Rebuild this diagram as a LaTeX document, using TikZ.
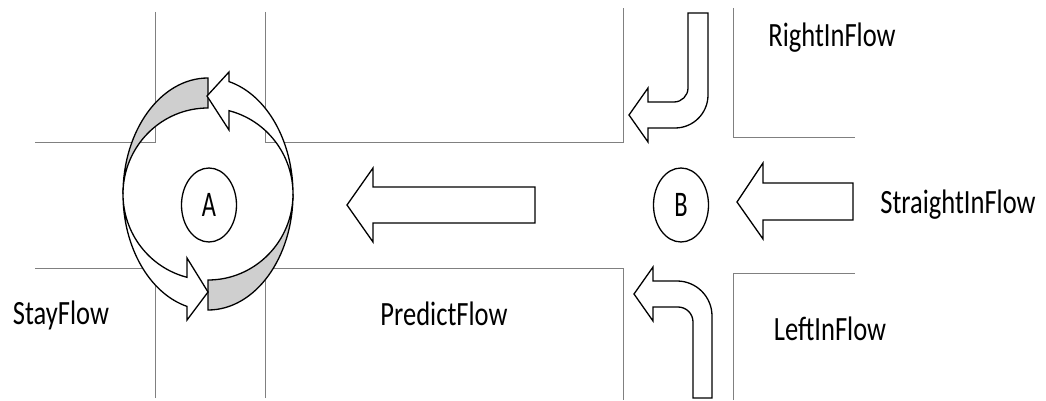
\documentclass[tikz,border=0pt]{standalone}
\usepackage{fontspec}
\setmainfont{Carlito}
\usetikzlibrary{shapes.geometric}

\begin{document}
\begin{tikzpicture}[x=1pt, y=-1pt,
	road/.style={draw=black!50, line width=1pt},
	blockarrow/.style={draw, fill=white, line width=1.3pt, line join=miter},
	backband/.style={draw, fill=black!19, line width=1.3pt},
	spot/.style={ellipse, draw, line width=1.3pt, minimum width=55pt, minimum height=74pt, inner sep=0pt,
		font=\fontsize{36}{40}\selectfont},
	lbl/.style={anchor=base, inner sep=0pt, font=\fontsize{34}{38}\selectfont, xscale=0.78, transform shape}]
	\useasboundingbox (0,0) rectangle (1046,401);
	\draw[road] (155,12) -- (155,142) -- (35,142) (265,12) -- (265,142) -- (623,142) -- (623,8);
	\draw[road] (155,398) -- (155,268) -- (35,268) (265,398) -- (265,268) -- (623,268) -- (623,400);
	\draw[road] (733,8) -- (733,137) -- (855,137) (733,400) -- (733,273) -- (855,273);
	\filldraw[backband] (123,194) arc[start angle=180, end angle=270, x radius=85, y radius=116]
		-- (208,108) arc[start angle=270, end angle=180, x radius=85, y radius=86] -- cycle;
	\filldraw[backband] (208,310) arc[start angle=90, end angle=0, x radius=85, y radius=116]
		arc[start angle=0, end angle=90, x radius=85, y radius=86] -- cycle;
	\filldraw[blockarrow] (293,194) arc[start angle=360, end angle=284.3, x radius=85, y radius=116]
		-- (229,72) -- (207,96) -- (229,130) -- (229,110.7)
		arc[start angle=284.3, end angle=360, x radius=85, y radius=86] -- cycle;
	\filldraw[blockarrow] (123,194) arc[start angle=180, end angle=104.3, x radius=85, y radius=116]
		-- (187,320) -- (208,292) -- (187,258) -- (187,277.3)
		arc[start angle=104.3, end angle=180, x radius=85, y radius=86] -- cycle;
	\filldraw[blockarrow] (535,187) -- (373,187) -- (373,168) -- (347,205) -- (373,242) -- (373,223) -- (535,223) -- cycle;
	\filldraw[blockarrow] (853,183) -- (763,183) -- (763,163) -- (737,202) -- (763,239) -- (763,220) -- (853,220) -- cycle;
	\filldraw[blockarrow] (688,13) -- (708,13) -- (708,95) arc[start angle=0, end angle=90, radius=33]
		-- (648,128) -- (648,142) -- (629,115) -- (648,88) -- (648,102) -- (674,102)
		arc[start angle=90, end angle=0, radius=14] -- cycle;
	\filldraw[blockarrow] (693,398) -- (712,398) -- (712,316) arc[start angle=0, end angle=-90, radius=35]
		-- (653,281) -- (653,267) -- (634,294) -- (653,321) -- (653,307) -- (678,307)
		arc[start angle=-90, end angle=0, radius=15] -- cycle;
	\node[spot] (A) at (209,205) {\scalebox{0.68}[1]{A}};
	\node[spot] (B) at (681,205) {\scalebox{0.68}[1]{B}};
	\node[lbl] (rightin) at (832,47) {RightInFlow};
	\node[lbl] (straightin) at (958,213) {StraightInFlow};
	\node[lbl] (leftin) at (830,340) {LeftInFlow};
	\node[lbl] (stay) at (61,324) {StayFlow};
	\node[lbl] (predict) at (444,325) {PredictFlow};
\end{tikzpicture}
\end{document}
